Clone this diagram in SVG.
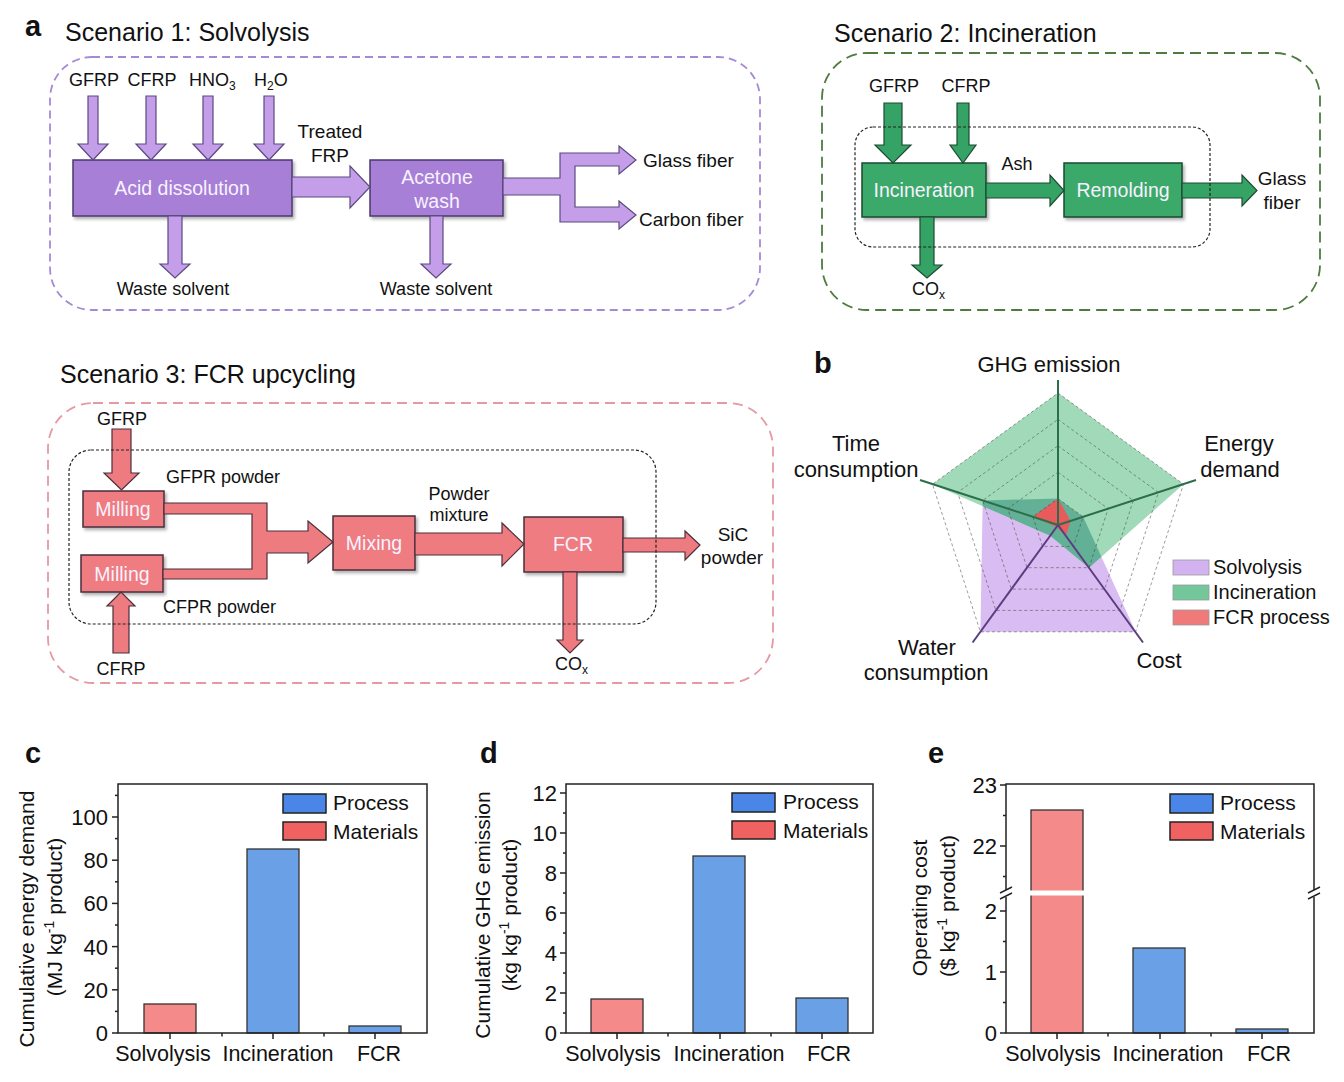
<svg xmlns="http://www.w3.org/2000/svg" width="1344" height="1082" viewBox="0 0 1344 1082">
<defs>
<filter id="sh" x="-10%" y="-10%" width="130%" height="140%">
<feDropShadow dx="2" dy="2.5" stdDeviation="1.5" flood-color="#000" flood-opacity="0.3"/>
</filter>
</defs>
<style>
text{font-family:"Liberation Sans",Arial,Helvetica,sans-serif;fill:#111}
.pl{font-weight:bold;font-size:29px}
.ti{font-size:25px}
.lb{font-size:18px}
.lb19{font-size:19px}
.bx{font-size:19.5px;fill:#f7f2ff}
.b1{fill:#a77fd6;stroke:#4a3a6c;stroke-width:1.5}
.a1{fill:#c59ee9;stroke:#5a4a80;stroke-width:1.2}
.b2{fill:#3aa96b;stroke:#1e4a31;stroke-width:1.5}
.a2{fill:#35a366;stroke:#1e4a31;stroke-width:1.2}
.b3{fill:#ee7b80;stroke:#4a2f3c;stroke-width:1.5}
.a3{fill:#ee7b80;stroke:#4a2f3c;stroke-width:1.2}
.dot{fill:none;stroke:#222;stroke-width:1.2;stroke-dasharray:3 2}
.grid{fill:none;stroke:#444;stroke-opacity:0.6;stroke-width:0.9;stroke-dasharray:3 2.5}
.ax{fill:none;stroke:#222;stroke-width:1.5}
.tk{stroke:#222;stroke-width:1.5}
.tl{font-size:22px}
.cl{font-size:21.5px}
.lg{font-size:21px}
.yt{font-size:21px}
.rl{font-size:22px}
.rlg{font-size:20px}
.barR{fill:#f58a8a;stroke:#333;stroke-width:1.3}
.barB{fill:#6aa0e6;stroke:#333;stroke-width:1.3}
.swB{fill:#4a86e8;stroke:#222;stroke-width:1.5}
.swR{fill:#f06262;stroke:#222;stroke-width:1.5}
.gax{stroke:#2d6e4a;stroke-width:2}
.pax{stroke:#5b3d80;stroke-width:2}
</style>

<!-- Panel a: Scenario 1 -->
<g id="scenario1">
<text class="pl" x="25" y="36">a</text>
<text class="ti" x="65" y="41">Scenario 1: Solvolysis</text>
<rect x="50" y="57" width="710" height="253" rx="42" fill="none" stroke="#a48ad6" stroke-width="1.8" stroke-dasharray="8 5"/>
<text class="lb" x="94" y="86" text-anchor="middle">GFRP</text>
<text class="lb" x="152" y="86" text-anchor="middle">CFRP</text>
<text class="lb" x="189" y="86">HNO<tspan font-size="12" dy="4">3</tspan></text>
<text class="lb" x="254" y="86">H<tspan font-size="12" dy="4">2</tspan><tspan dy="-4">O</tspan></text>
<text class="lb19" x="330" y="138" text-anchor="middle">Treated</text>
<text class="lb19" x="330" y="162" text-anchor="middle">FRP</text>
<text class="lb" x="173" y="295" text-anchor="middle">Waste solvent</text>
<text class="lb" x="436" y="295" text-anchor="middle">Waste solvent</text>
<text class="lb19" x="643" y="167">Glass fiber</text>
<text class="lb19" x="639" y="226">Carbon fiber</text>
</g>
<g id="node-acid">
<rect class="b1" x="73" y="160" width="219" height="56" filter="url(#sh)"/>
<text class="bx" x="182" y="195" text-anchor="middle">Acid dissolution</text>
</g>
<g id="node-acetone">
<rect class="b1" x="370" y="160" width="133" height="56" filter="url(#sh)"/>
<text class="bx" x="437" y="184" text-anchor="middle">Acetone</text>
<text class="bx" x="437" y="208" text-anchor="middle">wash</text>
</g>

<!-- Panel a: Scenario 2 -->
<g id="scenario2">
<text class="ti" x="834" y="42">Scenario 2: Incineration</text>
<rect x="822" y="53" width="498" height="257" rx="45" fill="none" stroke="#4f7b3e" stroke-width="1.8" stroke-dasharray="11 6"/>
<text class="lb" x="894" y="92" text-anchor="middle">GFRP</text>
<text class="lb" x="966" y="92" text-anchor="middle">CFRP</text>
<text class="lb" x="1017" y="170" text-anchor="middle">Ash</text>
<text class="lb19" x="1282" y="185" text-anchor="middle">Glass</text>
<text class="lb19" x="1282" y="209" text-anchor="middle">fiber</text>
<text class="lb" x="912" y="295">CO<tspan font-size="12" dy="4">x</tspan></text>
</g>
<g id="node-incineration">
<rect class="b2" x="862" y="163" width="124" height="54" filter="url(#sh)"/>
<text class="bx" x="924" y="197" text-anchor="middle">Incineration</text>
</g>
<g id="node-remolding">
<rect class="b2" x="1064" y="163" width="118" height="54" filter="url(#sh)"/>
<text class="bx" x="1123" y="197" text-anchor="middle">Remolding</text>
</g>

<!-- Panel a: Scenario 3 -->
<g id="scenario3">
<text class="ti" x="60" y="383">Scenario 3: FCR upcycling</text>
<rect x="48" y="403" width="725" height="280" rx="45" fill="none" stroke="#e59aa3" stroke-width="1.8" stroke-dasharray="10 6"/>
<text class="lb" x="122" y="425" text-anchor="middle">GFRP</text>
<text class="lb" x="121" y="675" text-anchor="middle">CFRP</text>
<text class="lb" x="166" y="483">GFPR powder</text>
<text class="lb" x="163" y="613">CFPR powder</text>
<text class="lb" x="459" y="500" text-anchor="middle">Powder</text>
<text class="lb" x="459" y="521" text-anchor="middle">mixture</text>
<text class="lb19" x="733" y="541" text-anchor="middle">SiC</text>
<text class="lb19" x="732" y="564" text-anchor="middle">powder</text>
<text class="lb" x="555" y="670">CO<tspan font-size="12" dy="4">x</tspan></text>
</g>
<g id="node-milling1">
<rect class="b3" x="83" y="491" width="81" height="36" filter="url(#sh)"/>
<text class="bx" x="123" y="516" text-anchor="middle">Milling</text>
</g>
<g id="node-milling2">
<rect class="b3" x="81" y="555" width="82" height="37" filter="url(#sh)"/>
<text class="bx" x="122" y="581" text-anchor="middle">Milling</text>
</g>
<g id="node-mixing">
<rect class="b3" x="333" y="516" width="82" height="54" filter="url(#sh)"/>
<text class="bx" x="374" y="550" text-anchor="middle">Mixing</text>
</g>
<g id="node-fcr">
<rect class="b3" x="524" y="517" width="99" height="55" filter="url(#sh)"/>
<text class="bx" x="573" y="551" text-anchor="middle">FCR</text>
</g>

<!-- Connectors -->
<g id="connectors">
<polygon class="a1" points="88,96 98,96 98,144 108,144 93,160 78,144 88,144"/>
<polygon class="a1" points="146,96 156,96 156,144 166,144 151,160 136,144 146,144"/>
<polygon class="a1" points="203,96 213,96 213,144 223,144 208,160 193,144 203,144"/>
<polygon class="a1" points="264,96 274,96 274,144 284,144 269,160 254,144 264,144"/>
<polygon class="a1" points="292,177 350,177 350,166 370,187 350,208 350,197 292,197"/>
<polygon class="a1" points="168,216 182,216 182,264 190,264 175,278 160,264 168,264"/>
<polygon class="a1" points="430,216 443,216 443,264 451,264 436,278 421,264 430,264"/>
<polygon class="a1" points="503,178 560,178 560,153 619,153 619,146 636,160 619,174 619,166 575,166 575,207 619,207 619,201 636,215 619,229 619,222 560,222 560,195 503,195"/>

<polygon class="a2" points="884,103 902,103 902,145 911,145 893,163 875,145 884,145"/>
<polygon class="a2" points="957,103 969,103 969,145 976,145 963,163 950,145 957,145"/>
<polygon class="a2" points="986,183 1050,183 1050,175 1064,190.5 1050,206 1050,198 986,198"/>
<polygon class="a2" points="1182,183 1242,183 1242,175 1257,190.5 1242,206 1242,198 1182,198"/>
<polygon class="a2" points="920,217 934,217 934,265 942,265 927,278 912,265 920,265"/>

<polygon class="a3" points="112,429 131,429 131,473 139,473 121.5,490 104,473 112,473"/>
<polygon class="a3" points="113,653 129,653 129,606 135,606 121,592 107,606 113,606"/>
<polygon class="a3" points="164,503 267,503 267,531 308,531 308,521 333,542 308,563 308,553 267,553 267,579 163,579 163,569 252,569 252,514 164,514"/>
<polygon class="a3" points="415,533 502,533 502,523 524,544 502,566 502,555 415,555"/>
<polygon class="a3" points="623,538 685,538 685,531 700,545 685,560 685,552 623,552"/>
<polygon class="a3" points="563,572 577,572 577,640 583,640 570,653 557,640 563,640"/>

<rect class="dot" x="855" y="127" width="355" height="120" rx="18"/>
<rect class="dot" x="69" y="450" width="587" height="174" rx="22"/>
</g>

<!-- Panel b: radar -->
<g id="radar">
<text class="pl" x="814" y="373">b</text>
<polygon fill="#d9bdf2" points="1058,498.6 1083.1,516.8 1135.6,631.8 980.4,631.8 982.7,500.5"/>
<polygon fill="#a0dab9" points="1058,393 1183.5,484.2 1089,567.7 1050.2,535.7 932.5,484.2"/>
<polygon fill="#62b095" points="982.7,500.5 1058,498.6 1083.1,516.8 1101.4,556.8 1089,567.7 1050.2,535.7 982.6,506.1"/>
<polygon fill="#e85a5c" points="1058,498.6 1070.6,520.9 1065.8,535.7 1056.5,527 1032.9,516.8"/>
<polygon class="grid" points="1058,393 1183.5,484.2 1135.6,631.8 980.4,631.8 932.5,484.2"/>
<polygon class="grid" points="1058,419.4 1158.4,492.4 1120.1,610.4 995.9,610.4 957.6,492.4"/>
<polygon class="grid" points="1058,445.8 1133.3,500.5 1104.6,589.1 1011.4,589.1 982.7,500.5"/>
<polygon class="grid" points="1058,472.2 1108.2,508.7 1089,567.7 1027,567.7 1007.8,508.7"/>
<polygon class="grid" points="1058,498.6 1083.1,516.8 1073.5,546.4 1042.5,546.4 1032.9,516.8"/>
<line class="gax" x1="1058" y1="525" x2="1058" y2="380"/>
<line class="gax" x1="1058" y1="525" x2="1196" y2="480"/>
<line class="gax" x1="1058" y1="525" x2="920" y2="480"/>
<line class="pax" x1="1058" y1="525" x2="1143" y2="642.5"/>
<line class="pax" x1="1058" y1="525" x2="972.6" y2="642.5"/>
<text class="rl" x="1049" y="372" text-anchor="middle">GHG emission</text>
<text class="rl" x="856" y="451" text-anchor="middle">Time</text>
<text class="rl" x="856" y="477" text-anchor="middle">consumption</text>
<text class="rl" x="1239" y="451" text-anchor="middle">Energy</text>
<text class="rl" x="1240" y="477" text-anchor="middle">demand</text>
<text class="rl" x="927" y="655" text-anchor="middle">Water</text>
<text class="rl" x="926" y="680" text-anchor="middle">consumption</text>
<text class="rl" x="1159" y="668" text-anchor="middle">Cost</text>
<rect x="1173" y="560" width="36" height="15" fill="#d2b2ef" stroke="#999" stroke-width="0.8"/>
<rect x="1173" y="585" width="36" height="15" fill="#74c79a" stroke="#999" stroke-width="0.8"/>
<rect x="1173" y="610" width="36" height="15" fill="#f07a7a" stroke="#999" stroke-width="0.8"/>
<text class="rlg" x="1213" y="574">Solvolysis</text>
<text class="rlg" x="1213" y="599">Incineration</text>
<text class="rlg" x="1213" y="624">FCR process</text>
</g>

<!-- Panel c -->
<g id="chart-c">
<text class="pl" x="25" y="763">c</text>
<rect x="144" y="1004" width="52" height="29" class="barR"/>
<rect x="247" y="849" width="52" height="184" class="barB"/>
<rect x="349" y="1026" width="52" height="7" class="barB"/>
<rect class="ax" x="118" y="784" width="309" height="249"/>
<g class="tk">
<line x1="112" y1="1033" x2="118" y2="1033"/><line x1="112" y1="989.8" x2="118" y2="989.8"/><line x1="112" y1="946.6" x2="118" y2="946.6"/><line x1="112" y1="903.4" x2="118" y2="903.4"/><line x1="112" y1="860.2" x2="118" y2="860.2"/><line x1="112" y1="817" x2="118" y2="817"/>
<line x1="115" y1="1011.4" x2="118" y2="1011.4"/><line x1="115" y1="968.2" x2="118" y2="968.2"/><line x1="115" y1="925" x2="118" y2="925"/><line x1="115" y1="881.8" x2="118" y2="881.8"/><line x1="115" y1="838.6" x2="118" y2="838.6"/><line x1="115" y1="795.4" x2="118" y2="795.4"/>
<line x1="170" y1="1033" x2="170" y2="1039"/><line x1="273" y1="1033" x2="273" y2="1039"/><line x1="375" y1="1033" x2="375" y2="1039"/>
<line x1="222" y1="1033" x2="222" y2="1036.5"/><line x1="324" y1="1033" x2="324" y2="1036.5"/>
</g>
<text class="tl" x="108" y="1041" text-anchor="end">0</text>
<text class="tl" x="108" y="998" text-anchor="end">20</text>
<text class="tl" x="108" y="955" text-anchor="end">40</text>
<text class="tl" x="108" y="911" text-anchor="end">60</text>
<text class="tl" x="108" y="868" text-anchor="end">80</text>
<text class="tl" x="108" y="825" text-anchor="end">100</text>
<rect class="swB" x="283" y="794" width="43" height="19"/>
<rect class="swR" x="283" y="822" width="43" height="18"/>
<text class="lg" x="333" y="810">Process</text>
<text class="lg" x="333" y="839">Materials</text>
<text class="cl" x="163" y="1061" text-anchor="middle">Solvolysis</text>
<text class="cl" x="278" y="1061" text-anchor="middle">Incineration</text>
<text class="cl" x="379" y="1061" text-anchor="middle">FCR</text>
<text class="yt" transform="translate(34,919) rotate(-90)" text-anchor="middle">Cumulative energy demand</text>
<text class="yt" transform="translate(62,917) rotate(-90)" text-anchor="middle">(MJ kg<tspan font-size="14" dy="-8">-1</tspan><tspan dy="8"> product)</tspan></text>
</g>

<!-- Panel d -->
<g id="chart-d">
<text class="pl" x="480" y="763">d</text>
<rect x="591" y="999" width="52" height="34" class="barR"/>
<rect x="693" y="856" width="52" height="177" class="barB"/>
<rect x="796" y="998" width="52" height="35" class="barB"/>
<rect class="ax" x="566" y="784" width="307" height="249"/>
<g class="tk">
<line x1="560" y1="1033" x2="566" y2="1033"/><line x1="560" y1="993" x2="566" y2="993"/><line x1="560" y1="953" x2="566" y2="953"/><line x1="560" y1="913" x2="566" y2="913"/><line x1="560" y1="873" x2="566" y2="873"/><line x1="560" y1="833" x2="566" y2="833"/><line x1="560" y1="793" x2="566" y2="793"/>
<line x1="563" y1="1013" x2="566" y2="1013"/><line x1="563" y1="973" x2="566" y2="973"/><line x1="563" y1="933" x2="566" y2="933"/><line x1="563" y1="893" x2="566" y2="893"/><line x1="563" y1="853" x2="566" y2="853"/><line x1="563" y1="813" x2="566" y2="813"/>
<line x1="617" y1="1033" x2="617" y2="1039"/><line x1="720" y1="1033" x2="720" y2="1039"/><line x1="822" y1="1033" x2="822" y2="1039"/>
<line x1="668" y1="1033" x2="668" y2="1036.5"/><line x1="771" y1="1033" x2="771" y2="1036.5"/>
</g>
<text class="tl" x="557" y="1041" text-anchor="end">0</text>
<text class="tl" x="557" y="1001" text-anchor="end">2</text>
<text class="tl" x="557" y="961" text-anchor="end">4</text>
<text class="tl" x="557" y="921" text-anchor="end">6</text>
<text class="tl" x="557" y="881" text-anchor="end">8</text>
<text class="tl" x="557" y="841" text-anchor="end">10</text>
<text class="tl" x="557" y="801" text-anchor="end">12</text>
<rect class="swB" x="732" y="793" width="43" height="19"/>
<rect class="swR" x="732" y="821" width="43" height="18"/>
<text class="lg" x="783" y="809">Process</text>
<text class="lg" x="783" y="838">Materials</text>
<text class="cl" x="613" y="1061" text-anchor="middle">Solvolysis</text>
<text class="cl" x="729" y="1061" text-anchor="middle">Incineration</text>
<text class="cl" x="829" y="1061" text-anchor="middle">FCR</text>
<text class="yt" transform="translate(490,915) rotate(-90)" text-anchor="middle">Cumulative GHG emission</text>
<text class="yt" transform="translate(517,915) rotate(-90)" text-anchor="middle">(kg kg<tspan font-size="14" dy="-8">-1</tspan><tspan dy="8"> product)</tspan></text>
</g>

<!-- Panel e -->
<g id="chart-e">
<text class="pl" x="928" y="763">e</text>
<rect x="1031" y="810" width="52" height="223" class="barR"/>
<rect x="1133" y="948" width="52" height="85" class="barB"/>
<rect x="1236" y="1029" width="52" height="4" class="barB"/>
<rect class="ax" x="1006" y="784" width="308" height="249"/>
<g class="tk">
<line x1="1000" y1="1033" x2="1006" y2="1033"/><line x1="1000" y1="972" x2="1006" y2="972"/><line x1="1000" y1="911" x2="1006" y2="911"/><line x1="1000" y1="846" x2="1006" y2="846"/><line x1="1000" y1="785" x2="1006" y2="785"/>
<line x1="1003" y1="1002.5" x2="1006" y2="1002.5"/><line x1="1003" y1="941.5" x2="1006" y2="941.5"/><line x1="1003" y1="876.5" x2="1006" y2="876.5"/><line x1="1003" y1="815.5" x2="1006" y2="815.5"/>
<line x1="1057" y1="1033" x2="1057" y2="1039"/><line x1="1160" y1="1033" x2="1160" y2="1039"/><line x1="1262" y1="1033" x2="1262" y2="1039"/>
<line x1="1108" y1="1033" x2="1108" y2="1036.5"/><line x1="1211" y1="1033" x2="1211" y2="1036.5"/>
</g>
<rect x="1028" y="890.5" width="58" height="5" fill="#fff"/>
<rect x="1002" y="890" width="8" height="7" fill="#fff"/>
<rect x="1310" y="890" width="8" height="7" fill="#fff"/>
<g class="tk">
<line x1="1000" y1="893" x2="1012" y2="887"/><line x1="1000" y1="899" x2="1012" y2="893"/>
<line x1="1308" y1="893" x2="1320" y2="887"/><line x1="1308" y1="899" x2="1320" y2="893"/>
</g>
<text class="tl" x="997" y="1041" text-anchor="end">0</text>
<text class="tl" x="997" y="980" text-anchor="end">1</text>
<text class="tl" x="997" y="919" text-anchor="end">2</text>
<text class="tl" x="997" y="854" text-anchor="end">22</text>
<text class="tl" x="997" y="793" text-anchor="end">23</text>
<rect class="swB" x="1170" y="794" width="43" height="19"/>
<rect class="swR" x="1170" y="822" width="43" height="18"/>
<text class="lg" x="1220" y="810">Process</text>
<text class="lg" x="1220" y="839">Materials</text>
<text class="cl" x="1053" y="1061" text-anchor="middle">Solvolysis</text>
<text class="cl" x="1168" y="1061" text-anchor="middle">Incineration</text>
<text class="cl" x="1269" y="1061" text-anchor="middle">FCR</text>
<text class="yt" transform="translate(927,908) rotate(-90)" text-anchor="middle">Operating cost</text>
<text class="yt" transform="translate(955,906) rotate(-90)" text-anchor="middle">($ kg<tspan font-size="14" dy="-8">-1</tspan><tspan dy="8"> product)</tspan></text>
</g>
</svg>
